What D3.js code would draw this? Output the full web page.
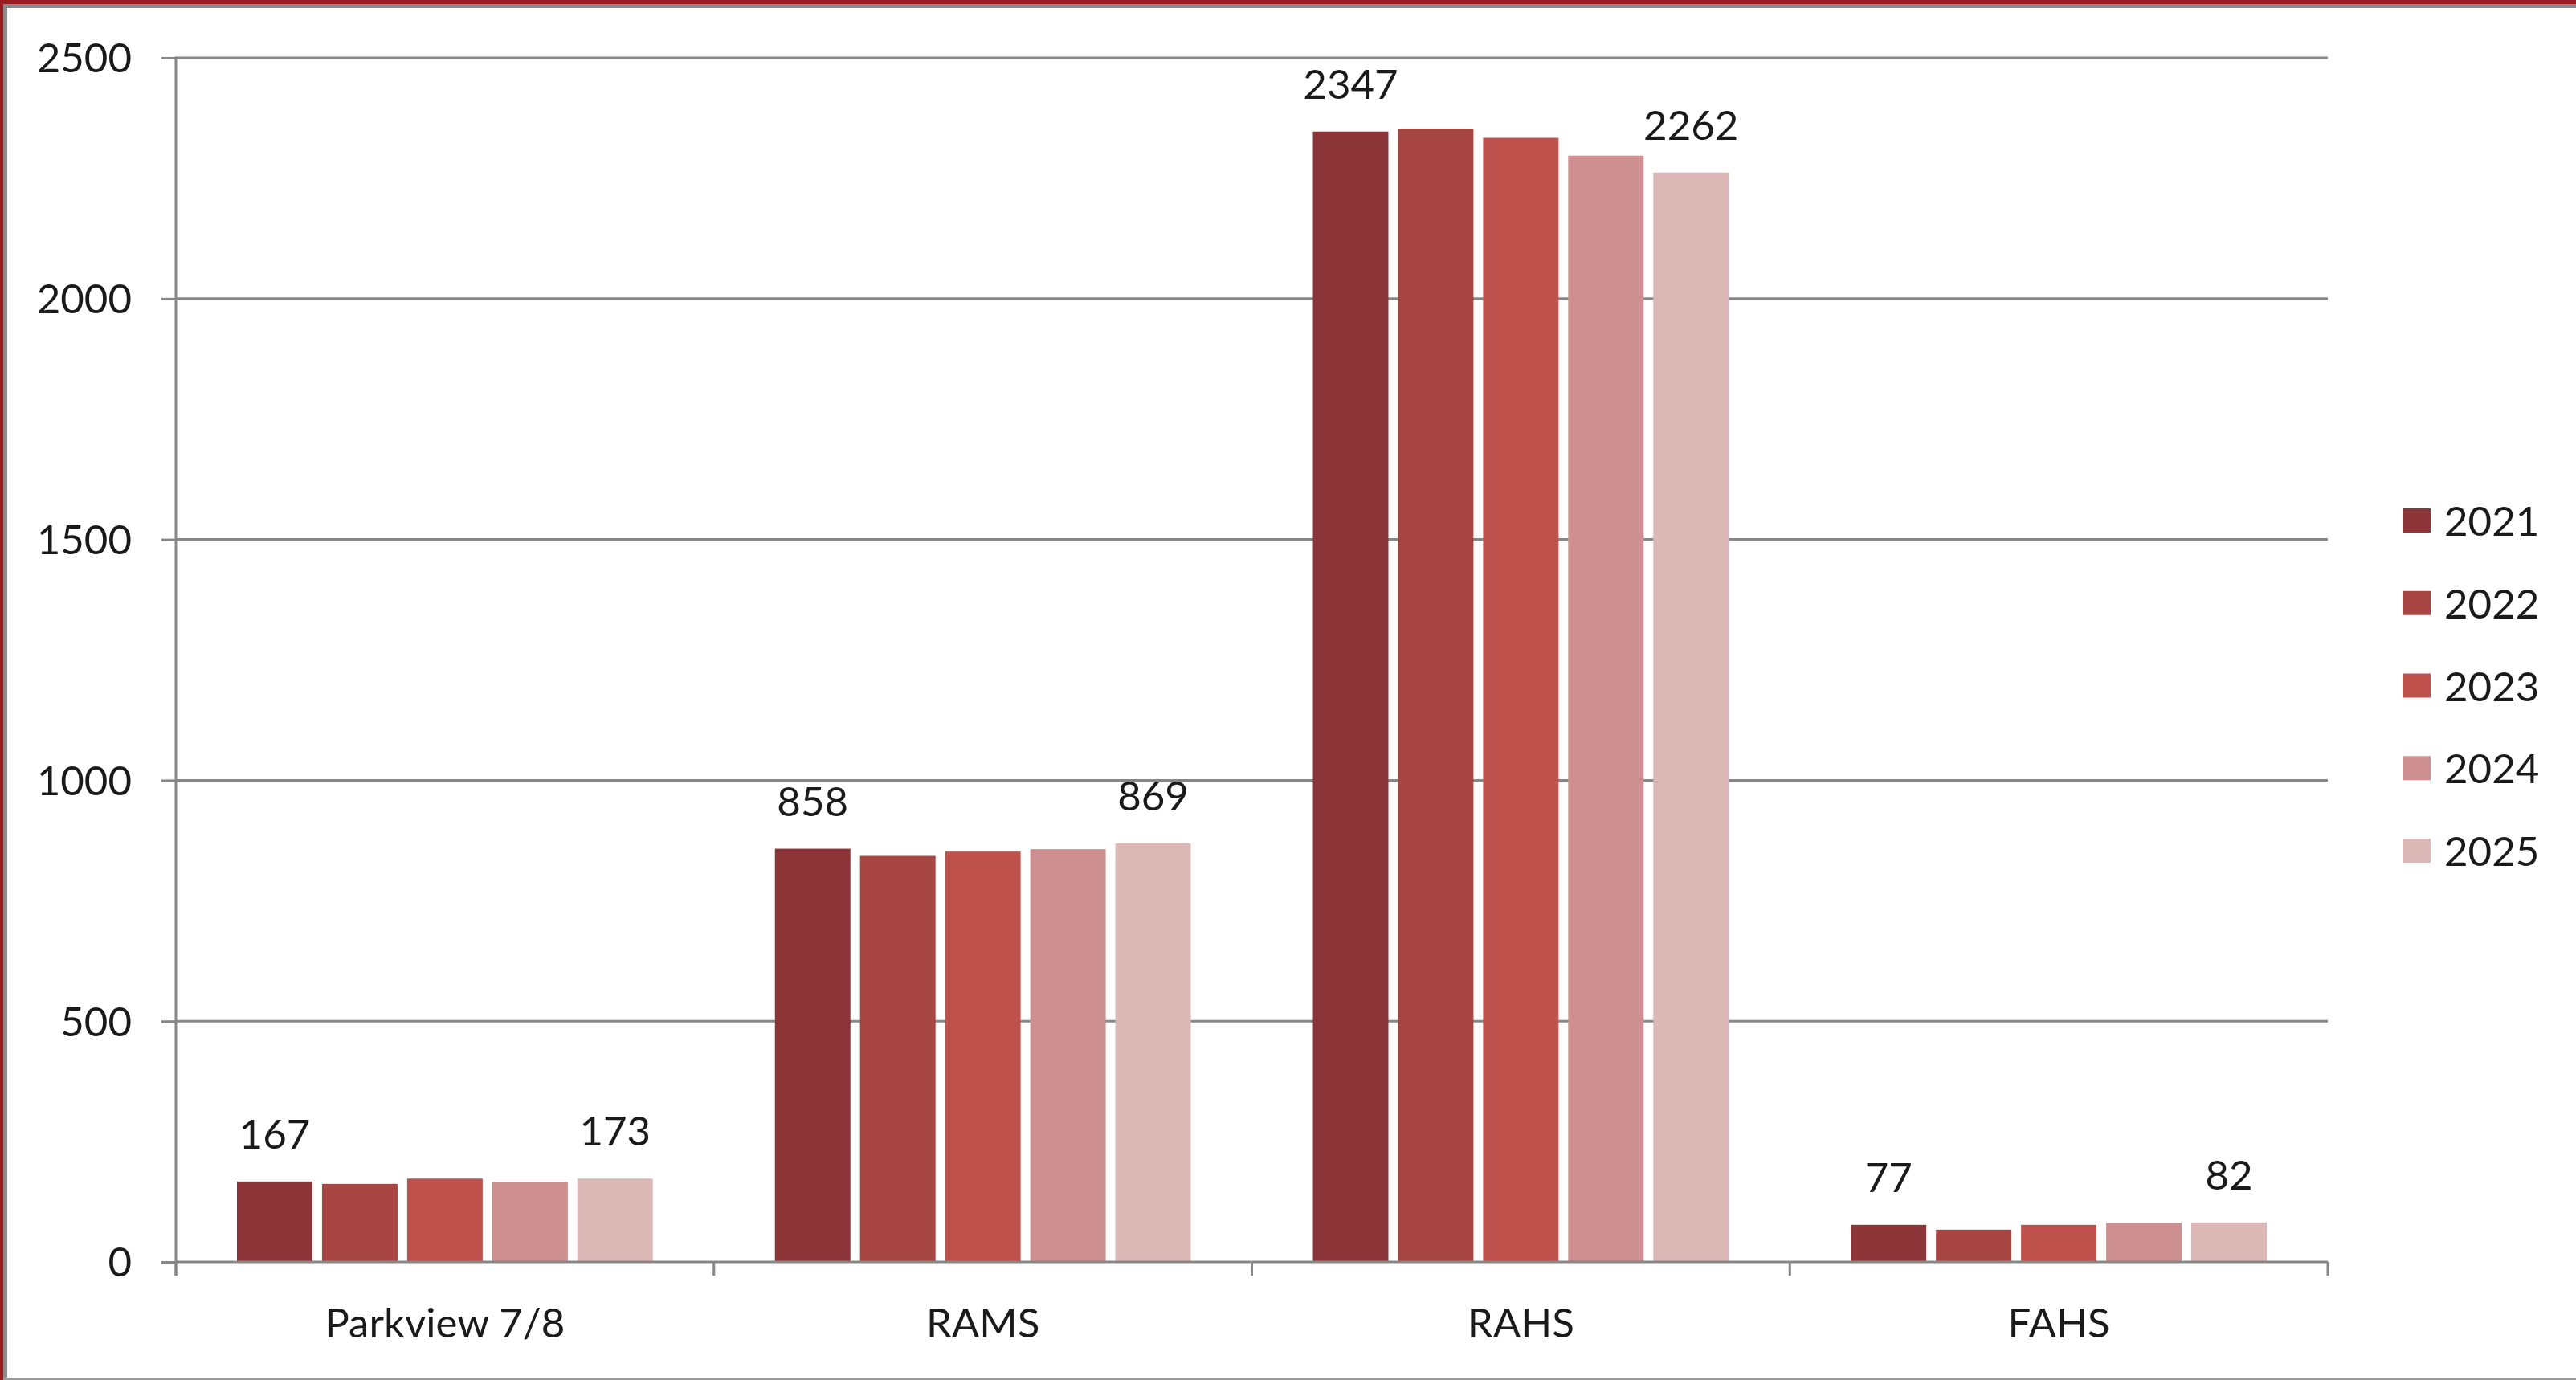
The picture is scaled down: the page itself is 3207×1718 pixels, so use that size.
<!DOCTYPE html>
<html>
<head>
<meta charset="utf-8">
<script src="https://cdn.jsdelivr.net/npm/d3@7"></script>
<style>
  html, body { margin: 0; padding: 0; background: #fff; }
  svg { display: block; }
  text { font-family: Lato, "Open Sans", sans-serif; fill: #1a1a1a; }
</style>
</head>
<body>
<svg id="chart" width="3207" height="1718"></svg>
<script>
// ---- data ----
const categories = ["Parkview 7/8", "RAMS", "RAHS", "FAHS"];
const years = ["2021", "2022", "2023", "2024", "2025"];
const v2021 = [167, 858, 2347, 77];
const v2022 = [162, 843, 2353, 67];
const v2023 = [173, 852, 2334, 77];
const v2024 = [166, 857, 2297, 81];
const v2025 = [173, 869, 2262, 82];
const yTicks = [0, 500, 1000, 1500, 2000, 2500];
const colors = ["#8B3538", "#A74542", "#BE514C", "#CD8F8F", "#DBB7B6"];
const labeledYears = ["2021", "2025"];

const series = [v2021, v2022, v2023, v2024, v2025];

// ---- layout ----
const W = 3207, H = 1718;
const plot = { left: 219, right: 2898, top: 72, bottom: 1571 };
const fontSize = 51;
const gridColor = "#878787";

const svg = d3.select("#chart");

// frame
svg.append("rect").attr("x", 0).attr("y", 0).attr("width", W).attr("height", H).attr("fill", "#fff");
svg.append("rect").attr("x", 0).attr("y", 0).attr("width", W).attr("height", 5).attr("fill", "#9A1B22");
svg.append("rect").attr("x", 0).attr("y", 0).attr("width", 4).attr("height", H).attr("fill", "#9A1B22");
svg.append("rect").attr("x", 4).attr("y", 5).attr("width", W - 4).attr("height", 5).attr("fill", "#8a8a8a");
svg.append("rect").attr("x", 4).attr("y", 5).attr("width", 5).attr("height", H - 5).attr("fill", "#8a8a8a");
svg.append("rect").attr("x", 4).attr("y", H - 3).attr("width", W - 4).attr("height", 3).attr("fill", "#9a9a9a");

// scales
const y = d3.scaleLinear().domain([0, 2500]).range([plot.bottom, plot.top]);
const x0 = d3.scaleBand().domain(categories).range([plot.left, plot.right]).paddingInner(0).paddingOuter(0);
const groupPad = 76;
const x1 = d3.scaleBand().domain(years)
  .range([groupPad, x0.bandwidth() - groupPad])
  .paddingInner(0.113).paddingOuter(0);

// gridlines + y axis
const yAxis = d3.axisLeft(y).tickValues(yTicks).tickSize(18).tickPadding(37).tickFormat(d3.format("d"));
const gy = svg.append("g").attr("transform", `translate(${plot.left},0)`).call(yAxis);
gy.select(".domain").remove();
gy.selectAll(".tick line").attr("stroke", gridColor).attr("stroke-width", 3);
gy.selectAll(".tick text").attr("font-size", fontSize).attr("fill", "#1a1a1a")
  .attr("font-family", "Lato, 'Open Sans', sans-serif").attr("dy", "0.35em");

svg.append("g").selectAll("line").data(yTicks.filter(d => d > 0)).join("line")
  .attr("x1", plot.left).attr("x2", plot.right)
  .attr("y1", d => y(d)).attr("y2", d => y(d))
  .attr("stroke", gridColor).attr("stroke-width", 3);

// y axis line
svg.append("line").attr("x1", plot.left).attr("x2", plot.left)
  .attr("y1", plot.top - 1.5).attr("y2", plot.bottom + 17)
  .attr("stroke", gridColor).attr("stroke-width", 3);

// bars
const rows = [];
categories.forEach((c, ci) => {
  years.forEach((yr, yi) => rows.push({ cat: c, year: yr, yi, value: series[yi][ci] }));
});

svg.append("g").selectAll("rect").data(rows).join("rect")
  .attr("x", d => x0(d.cat) + x1(d.year))
  .attr("width", x1.bandwidth())
  .attr("y", d => y(d.value))
  .attr("height", d => y(0) - y(d.value))
  .attr("fill", d => colors[d.yi]);

// value labels
svg.append("g").selectAll("text").data(rows.filter(d => labeledYears.includes(d.year))).join("text")
  .attr("x", d => x0(d.cat) + x1(d.year) + x1.bandwidth() / 2)
  .attr("y", d => y(d.value) - 41)
  .attr("text-anchor", "middle")
  .attr("font-size", fontSize)
  .text(d => d.value);

// x axis
const xAxisLine = svg.append("g");
xAxisLine.append("line").attr("x1", plot.left).attr("x2", plot.right)
  .attr("y1", plot.bottom).attr("y2", plot.bottom)
  .attr("stroke", gridColor).attr("stroke-width", 3);
const boundaries = categories.map(c => x0(c)).concat([plot.right]);
xAxisLine.selectAll("line.tk").data(boundaries).join("line").attr("class", "tk")
  .attr("x1", d => d).attr("x2", d => d)
  .attr("y1", plot.bottom).attr("y2", plot.bottom + 17)
  .attr("stroke", gridColor).attr("stroke-width", 3);

svg.append("g").selectAll("text").data(categories).join("text")
  .attr("x", d => x0(d) + x0.bandwidth() / 2)
  .attr("y", 1665)
  .attr("text-anchor", "middle")
  .attr("font-size", fontSize)
  .text(d => d);

// legend
const legend = svg.append("g");
const legY = d3.scalePoint().domain(years).range([648, 1059]);
legend.selectAll("rect").data(years).join("rect")
  .attr("x", 2992).attr("y", d => legY(d) - 15)
  .attr("width", 34).attr("height", 30)
  .attr("fill", (d, i) => colors[i]);
legend.selectAll("text").data(years).join("text")
  .attr("x", 3043).attr("y", d => legY(d) + 19)
  .attr("font-size", fontSize)
  .text(d => d);
</script>
</body>
</html>
